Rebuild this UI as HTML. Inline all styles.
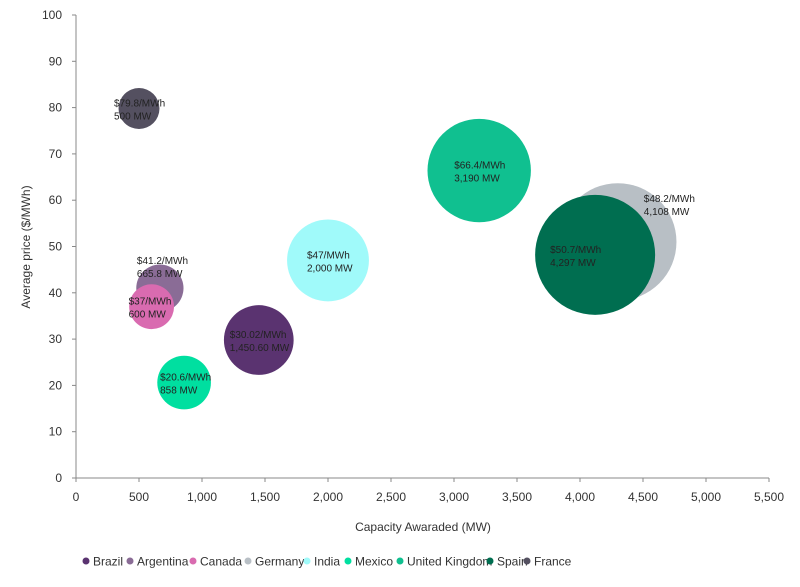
<!DOCTYPE html>
<html><head><meta charset="utf-8"><style>
body{margin:0;background:#fff;}
svg{font-family:"Liberation Sans",sans-serif;}
</style></head><body>
<svg id="chart" width="800" height="582" xmlns="http://www.w3.org/2000/svg"></svg>
<script>
const countries=["Brazil","Argentina","Canada","Germany","India","Mexico","United Kingdom","Spain","France"];
const capacity=[1450.6,665.8,600,4300,2000,858,3200,4120,500];
const price=[29.8,41,37,51,47,20.6,66.4,48.2,79.8];
const bubbleSize=[1450.6,665.8,600,4108,2000,858,3190,4297,500];
const labelTop=["$30.02/MWh","$41.2/MWh","$37/MWh","$48.2/MWh","$47/MWh","$20.6/MWh","$66.4/MWh","$50.7/MWh","$79.8/MWh"];
const labelBottom=["1,450.60 MW","665.8 MW","600 MW","4,108 MW","2,000 MW","858 MW","3,190 MW","4,297 MW","500 MW"];
const xTicks=[0,500,1000,1500,2000,2500,3000,3500,4000,4500,5000,5500];
const yTicks=[0,10,20,30,40,50,60,70,80,90,100];
const colors=["#5a3370","#8a6c96","#d96bb0","#b8bfc5","#a0fafa","#00dfa0","#10c090","#006e50","#545060"];
const labelDx=[-29,-23,-23,26,-21,-24,-25,-45,-25];
const labelDy=[0,-22,0,-38,0,0,0,0,0];
const legendX=[86,130,193,248,307,348,400,490,527];

const X=v=>76+v*(693/5500);
const Y=v=>478-v*4.63;
const R=s=>0.9153*Math.sqrt(s);
const svg=document.getElementById('chart');
const NS="http://www.w3.org/2000/svg";
function mk(t,a,txt){const e=document.createElementNS(NS,t);for(const k in a)e.setAttribute(k,a[k]);if(txt!==undefined)e.textContent=txt;svg.appendChild(e);return e;}

let ax=mk('line',{x1:76,y1:15,x2:76,y2:478,stroke:'#888'});


let bx=mk('line',{x1:76,y1:478,x2:769,y2:478,stroke:'#888'});


yTicks.forEach(v=>{
  mk('line',{x1:72,y1:Y(v),x2:76,y2:Y(v),stroke:'#888'});
  const t=mk('text',{x:62,y:Y(v)+4,'font-size':12,'text-anchor':'end',fill:'#333'},v);
  
  
});
xTicks.forEach(v=>{
  mk('line',{x1:X(v),y1:478,x2:X(v),y2:482,stroke:'#888'});
  const t=mk('text',{x:X(v),y:501,'font-size':12,'text-anchor':'middle',fill:'#333'},v.toLocaleString('en-US'));
  
  
});
let xt=mk('text',{x:423,y:531,'font-size':12,'text-anchor':'middle',fill:'#333'},'Capacity Awaraded (MW)');


let yt=mk('text',{x:0,y:0,'font-size':12,'text-anchor':'middle',fill:'#333',transform:'translate(30,247) rotate(-90)'},'Average price ($/MWh)');



countries.forEach((c,i)=>{
  const b=mk('circle',{cx:X(capacity[i]),cy:Y(price[i]),r:R(bubbleSize[i]),fill:colors[i]});
  
  
});
countries.forEach((c,i)=>{
  const x=X(capacity[i])+labelDx[i], y=Y(price[i])+labelDy[i];
  const t=mk('text',{x:x,y:y-2,'font-size':10,fill:'#222'},labelTop[i]);
  
  
  const t2=mk('text',{x:x,y:y+11,'font-size':10,fill:'#222'},labelBottom[i]);
  
  
});
countries.forEach((c,i)=>{
  const d=mk('circle',{cx:legendX[i],cy:561,r:3.5,fill:colors[i]});
  
  
  const t=mk('text',{x:legendX[i]+7,y:565.5,'font-size':12,fill:'#333'},c);
  
  
});
</script>
</body></html>
